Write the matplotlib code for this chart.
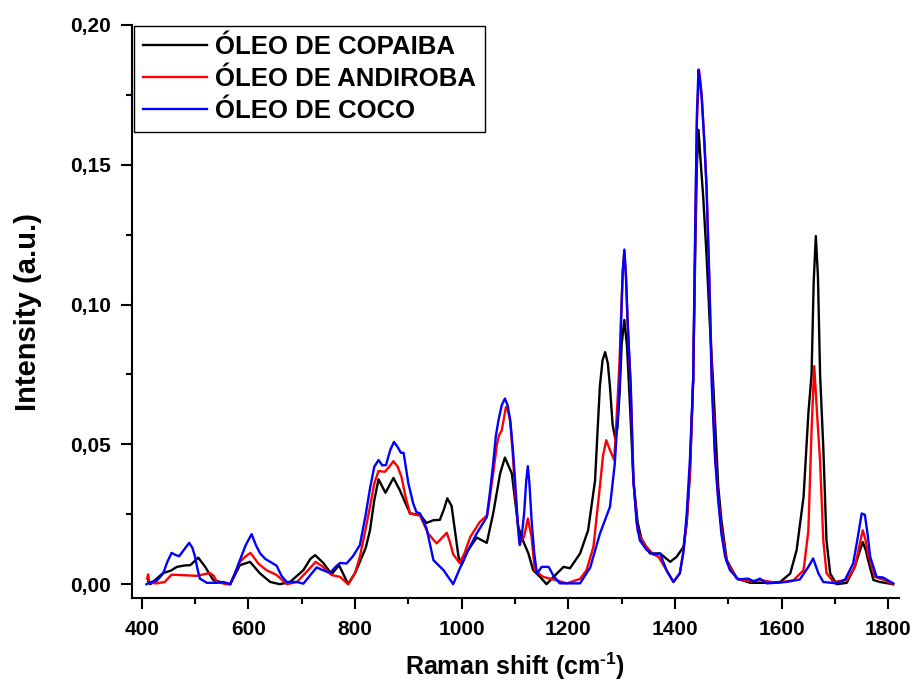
import matplotlib
matplotlib.use("Agg")
from matplotlib import pyplot as plt
from matplotlib.ticker import MultipleLocator, FuncFormatter

plt.rcParams['font.family'] = ['Liberation Sans', 'DejaVu Sans']
plt.rcParams['font.weight'] = 'bold'
plt.rcParams['mathtext.fontset'] = 'custom'
plt.rcParams['mathtext.rm'] = 'Liberation Sans:bold'
plt.rcParams['mathtext.bf'] = 'Liberation Sans:bold'

labels = ["ÓLEO DE COPAIBA", "ÓLEO DE ANDIROBA", "ÓLEO DE COCO"]
colors = ["black", "red", "blue"]

# oleo de copaiba
copaiba_x = [412, 416, 428, 440, 454, 466, 480, 491, 506, 519, 534, 553, 566, 584, 603, 622, 641, 659,
             678, 703, 716, 725, 740, 756, 770, 787, 800, 809, 820, 828, 836, 844, 857, 872, 884, 903,
             922, 934, 947, 959, 967, 973, 981, 994, 1000, 1012, 1028, 1047, 1059, 1072, 1081, 1094,
             1106, 1116, 1125, 1134, 1147, 1159, 1172, 1191, 1203, 1222, 1237, 1250, 1254, 1259, 1264,
             1269, 1274, 1278, 1283, 1288, 1292, 1296, 1300, 1305, 1310, 1316, 1322, 1330, 1337, 1353,
             1372, 1391, 1403, 1416, 1422, 1428, 1434, 1438, 1441, 1444, 1447, 1453, 1459, 1465, 1472,
             1481, 1487, 1497, 1516, 1541, 1570, 1597, 1616, 1628, 1641, 1650, 1656, 1660, 1664, 1668,
             1672, 1678, 1684, 1691, 1703, 1722, 1737, 1745, 1752, 1758, 1762, 1772, 1784, 1809]
copaiba_y = [0.001, 0.0, 0.002, 0.004, 0.0048, 0.0062, 0.0067, 0.0068, 0.0095, 0.0062, 0.0015, 0.0005,
             0.0, 0.0068, 0.008, 0.0038, 0.0008, 0.0, 0.0008, 0.005, 0.009, 0.0104, 0.0077, 0.0036,
             0.0068, 0.0, 0.004, 0.008, 0.013, 0.0193, 0.030, 0.0375, 0.0327, 0.038, 0.0336, 0.0253,
             0.0248, 0.0219, 0.0229, 0.023, 0.027, 0.0307, 0.028, 0.0098, 0.007, 0.0122, 0.0167, 0.0148,
             0.0253, 0.0396, 0.0453, 0.0396, 0.0205, 0.0151, 0.011, 0.005, 0.0026, 0.0, 0.0026, 0.0062,
             0.0057, 0.011, 0.0193, 0.037, 0.052, 0.0706, 0.080, 0.083, 0.079, 0.0706, 0.057, 0.052,
             0.056, 0.068, 0.086, 0.0945, 0.085, 0.062, 0.037, 0.022, 0.0163, 0.011, 0.011, 0.008,
             0.0098, 0.0134, 0.022, 0.040, 0.073, 0.12, 0.15, 0.1625, 0.154, 0.138, 0.118, 0.094, 0.070,
             0.035, 0.0229, 0.0086, 0.002, 0.0005, 0.0005, 0.0008, 0.0038, 0.0122, 0.0312, 0.061, 0.075,
             0.108, 0.1245, 0.110, 0.075, 0.049, 0.0157, 0.0038, 0.0, 0.0005, 0.0062, 0.011, 0.0151,
             0.012, 0.0086, 0.0015, 0.0008, 0.0]

# oleo de andiroba
andiroba_x = [410, 412, 414, 428, 443, 456, 470, 503, 516, 528, 535, 541, 559, 566, 575, 584, 595, 604,
              619, 634, 653, 672, 691, 709, 726, 740, 756, 772, 787, 800, 809, 820, 828, 836, 844, 856,
              864, 872, 880, 887, 895, 903, 922, 937, 953, 965, 972, 978, 984, 996, 1005, 1016, 1034,
              1048, 1059, 1066, 1070, 1075, 1083, 1087, 1091, 1096, 1100, 1108, 1117, 1124, 1131, 1137,
              1153, 1178, 1197, 1222, 1234, 1247, 1259, 1265, 1271, 1278, 1286, 1292, 1296, 1299, 1302,
              1305, 1308, 1311, 1317, 1322, 1330, 1341, 1359, 1369, 1384, 1397, 1409, 1416, 1422, 1428,
              1434, 1438, 1441, 1445, 1450, 1455, 1459, 1464, 1469, 1475, 1481, 1487, 1497, 1516, 1541,
              1560, 1590, 1622, 1641, 1650, 1656, 1661, 1666, 1672, 1678, 1684, 1697, 1722, 1737, 1745,
              1752, 1757, 1762, 1775, 1790, 1809]
andiroba_y = [0.002, 0.0035, 0.0005, 0.0003, 0.0008, 0.0034, 0.0033, 0.003, 0.0035, 0.004, 0.003, 0.0008,
              0.0, 0.0, 0.004, 0.008, 0.010, 0.0112, 0.0073, 0.005, 0.0033, 0.0, 0.0008, 0.0044, 0.008,
              0.0062, 0.0033, 0.0026, 0.0, 0.004, 0.0098, 0.020, 0.0277, 0.036, 0.0405, 0.0402, 0.042,
              0.044, 0.042, 0.0384, 0.031, 0.0253, 0.0245, 0.0181, 0.0146, 0.017, 0.0184, 0.015, 0.0107,
              0.0076, 0.011, 0.0169, 0.0223, 0.0247, 0.0396, 0.050, 0.0533, 0.055, 0.0634, 0.062, 0.058,
              0.046, 0.0336, 0.0146, 0.017, 0.0235, 0.0169, 0.005, 0.0026, 0.0014, 0.0003, 0.0019, 0.005,
              0.0134, 0.0348, 0.046, 0.0515, 0.048, 0.0444, 0.065, 0.08, 0.097, 0.112, 0.119, 0.110,
              0.094, 0.070, 0.037, 0.019, 0.0146, 0.0107, 0.0098, 0.005, 0.0008, 0.0039, 0.012, 0.023,
              0.040, 0.073, 0.125, 0.165, 0.184, 0.175, 0.158, 0.143, 0.112, 0.075, 0.047, 0.031, 0.020,
              0.008, 0.002, 0.001, 0.0015, 0.0005, 0.0014, 0.005, 0.019, 0.055, 0.078, 0.062, 0.044,
              0.0157, 0.004, 0.0008, 0.0015, 0.006, 0.013, 0.0193, 0.016, 0.0107, 0.0026, 0.0017, 0.0]

# oleo de coco
coco_x = [409, 418, 428, 440, 448, 456, 463, 470, 480, 489, 495, 500, 505, 509, 522, 541, 553, 566, 575,
          584, 595, 606, 614, 622, 632, 641, 653, 662, 672, 691, 703, 716, 728, 740, 753, 765, 772, 784,
          796, 809, 820, 828, 836, 844, 851, 858, 866, 873, 880, 886, 891, 900, 909, 915, 922, 934, 947,
          966, 975, 984, 995, 1009, 1028, 1047, 1053, 1059, 1064, 1069, 1075, 1081, 1086, 1091, 1096,
          1100, 1105, 1109, 1113, 1117, 1121, 1124, 1127, 1131, 1136, 1141, 1150, 1163, 1172, 1184,
          1222, 1241, 1259, 1278, 1287, 1292, 1296, 1299, 1302, 1305, 1308, 1311, 1317, 1322, 1328,
          1334, 1347, 1359, 1372, 1384, 1397, 1409, 1416, 1422, 1428, 1434, 1438, 1441, 1444, 1447,
          1450, 1455, 1459, 1464, 1469, 1475, 1481, 1487, 1494, 1503, 1519, 1537, 1548, 1559, 1572,
          1609, 1634, 1650, 1659, 1669, 1678, 1703, 1719, 1734, 1742, 1750, 1756, 1761, 1766, 1778,
          1790, 1809]
coco_y = [0.0, 0.0008, 0.0012, 0.0038, 0.008, 0.0112, 0.0105, 0.010, 0.0125, 0.0148, 0.013, 0.0098,
          0.005, 0.002, 0.0005, 0.0005, 0.0008, 0.0, 0.004, 0.0086, 0.014, 0.0179, 0.014, 0.011, 0.009,
          0.008, 0.0066, 0.003, 0.0008, 0.0008, 0.0002, 0.0032, 0.006, 0.005, 0.004, 0.0065, 0.0076,
          0.0074, 0.010, 0.014, 0.025, 0.0342, 0.042, 0.0444, 0.0425, 0.0426, 0.048, 0.0509, 0.049,
          0.047, 0.047, 0.036, 0.0289, 0.0258, 0.0253, 0.020, 0.0086, 0.005, 0.0025, 0.0, 0.005, 0.011,
          0.0181, 0.024, 0.033, 0.0432, 0.053, 0.0587, 0.064, 0.0664, 0.064, 0.0587, 0.048, 0.0372,
          0.022, 0.014, 0.018, 0.0253, 0.037, 0.0422, 0.036, 0.0229, 0.011, 0.0038, 0.0062, 0.0062,
          0.003, 0.0003, 0.0003, 0.006, 0.018, 0.0277, 0.043, 0.058, 0.0706, 0.0945, 0.112, 0.1197,
          0.110, 0.0945, 0.0706, 0.037, 0.022, 0.0157, 0.0122, 0.0107, 0.011, 0.005, 0.0008, 0.0039,
          0.012, 0.0254, 0.045, 0.073, 0.13, 0.168, 0.184, 0.180, 0.174, 0.158, 0.142, 0.11, 0.0706,
          0.045, 0.030, 0.018, 0.0098, 0.005, 0.0017, 0.002, 0.001, 0.002, 0.0003, 0.0008, 0.0017,
          0.0062, 0.0092, 0.0038, 0.0008, 0.0003, 0.0017, 0.0074, 0.016, 0.0253, 0.0248, 0.018,
          0.0098, 0.0026, 0.0024, 0.0003]

fig = plt.figure(figsize=(9.14, 6.86), dpi=100)
ax = fig.add_axes([0.144, 0.128, 0.8396, 0.8356])

series = [(copaiba_x, copaiba_y), (andiroba_x, andiroba_y), (coco_x, coco_y)]
for (xs, ys), lab, c in zip(series, labels, colors):
    ax.plot(xs, ys, color=c, lw=1.7, label=lab)

ax.set_xlim(381, 1820)
ax.set_ylim(-0.005, 0.20)
ax.xaxis.set_major_locator(MultipleLocator(200))
ax.xaxis.set_minor_locator(MultipleLocator(100))
ax.yaxis.set_major_locator(MultipleLocator(0.05))
ax.yaxis.set_minor_locator(MultipleLocator(0.025))
ax.yaxis.set_major_formatter(FuncFormatter(lambda v, p: f"{v:.2f}".replace(".", ",")))

for s in ["top", "right"]:
    ax.spines[s].set_visible(False)
for s in ["left", "bottom"]:
    ax.spines[s].set_linewidth(1.5)
ax.tick_params(which="major", direction="out", length=8, width=1.5, labelsize=15)
ax.tick_params(which="minor", direction="out", length=4, width=1.5)
ax.tick_params(axis="x", pad=8)
ax.tick_params(axis="y", pad=7)

ax.set_xlabel("Raman shift (cm$^{\\text{-1}}$)", fontsize=18, fontweight="bold", labelpad=8)
ax.set_ylabel("Intensity (a.u.)", fontsize=21, fontweight="bold", labelpad=20)

leg = ax.legend(loc="upper left", bbox_to_anchor=(0.003, 0.998), borderaxespad=0,
                handlelength=2.5, handletextpad=0.3, labelspacing=0.3, borderpad=0.35,
                fancybox=False, framealpha=1, edgecolor="black", prop={"weight": "bold", "size": 18.5})
leg.get_frame().set_linewidth(1.0)
for h in leg.get_lines():
    h.set_linewidth(1.7)

fig.savefig("out.png", dpi=100)
